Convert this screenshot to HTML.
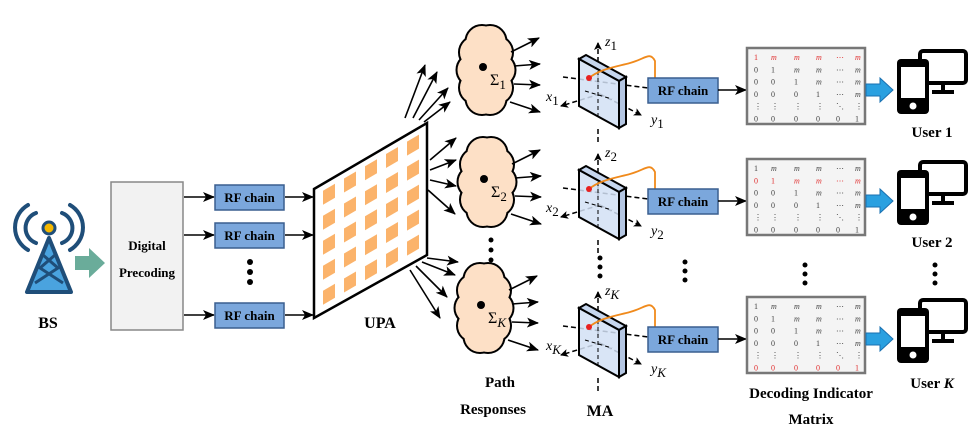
<!DOCTYPE html>
<html><head><meta charset="utf-8"><style>
html,body{margin:0;padding:0;background:#fff;}
svg{display:block;font-family:"Liberation Serif",serif;}
</style></head><body>
<svg id="s" width="969" height="433" viewBox="0 0 969 433" xmlns="http://www.w3.org/2000/svg">
<defs>
<marker id="ah" markerWidth="8" markerHeight="8" refX="7" refY="4" orient="auto" markerUnits="userSpaceOnUse"><path d="M0,0 L8,4 L0,8 L2,4 Z" fill="#000"/></marker>
<marker id="ah2" markerWidth="12" markerHeight="10" refX="11" refY="5" orient="auto" markerUnits="userSpaceOnUse"><path d="M0,0 L12,5 L0,10 L3,5 Z" fill="#000"/></marker>
</defs>
<g stroke="#1f4e79" fill="none" stroke-width="4" stroke-linecap="round">
<path d="M28,205 A26,26 0 0 0 28,250"/><path d="M70,205 A26,26 0 0 1 70,250"/>
<path d="M36,213 A16,16 0 0 0 36,243"/><path d="M62,213 A16,16 0 0 1 62,243"/>
</g>
<path d="M49,238 L27,292 L71,292 Z" fill="#4aa3df" stroke="#1f4e79" stroke-width="4" stroke-linejoin="round"/>
<path d="M43,255 L58,268 L35,283 M55,255 L40,268 L63,283" stroke="#1f4e79" stroke-width="3" fill="none"/>
<circle cx="49" cy="228" r="6" fill="#f5b800" stroke="#1f4e79" stroke-width="3"/>
<text x="48" y="328" font-size="16" font-weight="bold" text-anchor="middle">BS</text>
<path d="M75,256 L89,256 L89,248 L105,263 L89,278 L89,270 L75,270 Z" fill="#6aac9a"/>
<rect x="111" y="182" width="72" height="148" fill="#f2f2f2" stroke="#888" stroke-width="1.5"/>
<text x="147" y="250" font-size="13" font-weight="bold" text-anchor="middle">Digital</text>
<text x="147" y="277" font-size="13" font-weight="bold" text-anchor="middle">Precoding</text>
<g id="rf"></g>
<polygon points="314,189 427,123 427,255 314,318" fill="#fff" stroke="#000" stroke-width="2.5"/>
<g id="upa"></g>
<text x="380" y="328" font-size="16" font-weight="bold" text-anchor="middle">UPA</text>
<g id="dyn"></g>
<text x="500" y="387" font-size="15" font-weight="bold" text-anchor="middle">Path</text>
<text x="493" y="414" font-size="15" font-weight="bold" text-anchor="middle">Responses</text>
<text x="600" y="416" font-size="16" font-weight="bold" text-anchor="middle">MA</text>
<text x="811" y="398" font-size="15" font-weight="bold" text-anchor="middle">Decoding Indicator</text>
<text x="811" y="424" font-size="15" font-weight="bold" text-anchor="middle">Matrix</text>
</svg>
<script>
const NS="http://www.w3.org/2000/svg";
function add(p,tag,a,txt){const e=document.createElementNS(NS,tag);for(const k in a)e.setAttribute(k,a[k]);if(txt!==undefined)e.textContent=txt;(typeof p=='string'?document.getElementById(p):p).appendChild(e);return e;}
function arrow(p,x1,y1,x2,y2,w){add(p,'line',{x1,y1,x2,y2,stroke:'#000','stroke-width':w||1.6,'marker-end':'url(#ah2)'});}
function rfbox(p,x,y,w){add(p,'rect',{x,y,width:w,height:25,fill:'#7ba7dc',stroke:'#3a5f8f','stroke-width':1.5});add(p,'text',{x:x+w/2,y:y+17,'font-size':13,'font-weight':'bold','text-anchor':'middle'},'RF chain');}
function subtext(p,x,y,base,sub,size,italicSub){const t=add(p,'text',{x,y,'font-size':size,'font-style':'italic'},base);add(t,'tspan',{dy:4,'font-size':size-1,'font-style':italicSub?'italic':'normal'},sub);return t;}
[197,235,315].forEach(y=>{arrow('rf',184,y,214,y);rfbox('rf',215,y-12,69);arrow('rf',285,y,313,y);});
[262,272,282].forEach(y=>add('rf','circle',{cx:250,cy:y,r:3,fill:'#000'}));
for(let c=0;c<5;c++){const x=323+c*21;const f=(x-314)/113;const top=189-66*f;
 for(let r=0;r<5;r++){const y=top+7+r*25;const sk=-66/113*12;add('upa','polygon',{points:`${x},${y} ${x+12},${y+sk} ${x+12},${y+sk+14} ${x},${y+14}`,fill:'#fbb36b'});}}
[[405,118,425,65],[413,118,437,72],[419,120,448,88],[424,122,450,102],
 [430,160,456,138],[430,170,456,160],[430,180,456,186],[428,190,455,214],
 [427,258,458,262],[422,262,455,275],[416,266,447,297],[410,270,440,318]].forEach(a=>arrow('dyn',...a));
function cloud(cx,cy,sub,italic){
 const g=add('dyn','g',{});
 const pts=[];const n=10;for(let i=0;i<n;i++){const a=i/n*2*Math.PI;pts.push([cx+13*Math.cos(a),cy+30*Math.sin(a)]);}
 pts.forEach(p=>add(g,'circle',{cx:p[0],cy:p[1],r:15.5,fill:'#fde0c6',stroke:'#000','stroke-width':4}));
 pts.forEach(p=>add(g,'circle',{cx:p[0],cy:p[1],r:15.5,fill:'#fde0c6'}));
 add(g,'ellipse',{cx,cy,rx:16,ry:32,fill:'#fde0c6'});
 add('dyn','circle',{cx:cx-3,cy:cy-3,r:4,fill:'#000'});
 const t=add('dyn','text',{x:cx+4,y:cy+15,'font-size':16},'Σ');add(t,'tspan',{dy:4,'font-size':13,'font-style':italic?'italic':'normal'},sub);
 [[cx+25,cy-18,cx+53,cy-32],[cx+28,cy-4,cx+54,cy-6],[cx+28,cy+14,cx+54,cy+15],[cx+24,cy+32,cx+54,cy+42]].forEach(a=>arrow('dyn',...a));}
cloud(486,70,'1');cloud(487,182,'2');cloud(484,308,'K',true);
[240,250,260].forEach(y=>add('dyn','circle',{cx:491,cy:y,r:2.5,fill:'#000'}));
function ma(dy,sub,uy,lbl){
 const it=lbl==3;
 const d={stroke:'#000','stroke-dasharray':'5,3','stroke-width':1.5};
 add('dyn','line',Object.assign({x1:598,y1:dy+335,x2:598,y2:dy+292,'marker-end':'url(#ah)'},d));
 add('dyn','line',Object.assign({x1:598,y1:dy+378,x2:598,y2:dy+392},d));
 add('dyn','line',Object.assign({x1:600,y1:dy+343,x2:561,y2:dy+355,'marker-end':'url(#ah)'},d));
 add('dyn','line',Object.assign({x1:600,y1:dy+343,x2:641,y2:dy+364,'marker-end':'url(#ah)'},d));
 add('dyn','line',Object.assign({x1:563,y1:dy+326,x2:648,y2:dy+337},d));
 add('dyn','polygon',{points:`579,${dy+308} 586,${dy+304} 626,${dy+326} 619,${dy+330}`,fill:'#c6d6ee',stroke:'#000','stroke-width':2});
 add('dyn','polygon',{points:`619,${dy+330} 626,${dy+326} 626,${dy+373} 619,${dy+377}`,fill:'#b4c6e2',stroke:'#000','stroke-width':2});
 add('dyn','polygon',{points:`579,${dy+308} 619,${dy+330} 619,${dy+377} 579,${dy+355}`,fill:'#d2e0f4','fill-opacity':0.85,stroke:'#000','stroke-width':2});
 add('dyn','line',{x1:598,y1:dy+320,x2:598,y2:dy+365,stroke:'#000','stroke-dasharray':'4,3','stroke-width':1});
 add('dyn','line',{x1:585,y1:dy+340,x2:612,y2:dy+348,stroke:'#000','stroke-dasharray':'4,3','stroke-width':1});
 add('dyn','path',{d:`M589,${dy+327} C600,${dy+318} 615,${dy+316} 630,${dy+312} S650,${dy+300} 655,${dy+310} L655,${dy+327}`,fill:'none',stroke:'#f08a1c','stroke-width':1.8});
 add('dyn','circle',{cx:589,cy:dy+327,r:3,fill:'#e82020'});
 subtext('dyn',605,dy+295,'z',sub,14,it);
 subtext('dyn',546,dy+350,'x',sub,14,it);
 subtext('dyn',651,dy+373,'y',sub,14,it);
 rfbox('dyn',648,dy+327,70);
 arrow('dyn',718,dy+339,746,dy+339);
 const mx=747,mys=dy+297;
 add('dyn','rect',{x:mx,y:mys,width:118,height:76,fill:'#f4f4f4',stroke:'#777','stroke-width':2.5});
 const rows=[['1','m','m','m','⋯','m'],['0','1','m','m','⋯','m'],['0','0','1','m','⋯','m'],['0','0','0','1','⋯','m'],['⋮','⋮','⋮','⋮','⋱','⋮'],['0','0','0','0','0','1']];
 const xs=[754,771,794,816,836,855];
 rows.forEach((r,i)=>r.forEach((v,j)=>{const red=(lbl==1&&i==0)||(lbl==2&&i==1)||(lbl==3&&i==5);
  add('dyn','text',{x:xs[j],y:mys+12+i*12.3,'font-size':8,fill:red?'#e03030':'#444','font-style':v=='m'?'italic':'normal'},v);}));
 add('dyn','path',{d:`M866,${dy+333} L880,${dy+333} L880,${dy+327} L893,${dy+339} L880,${dy+351} L880,${dy+345} L866,${dy+345} Z`,fill:'#2aa0e0',stroke:'#1a70b0','stroke-width':1});
 add('dyn','rect',{x:920,y:dy+300,width:46,height:32,rx:3,fill:'#fff',stroke:'#000','stroke-width':4});
 add('dyn','line',{x1:943,y1:dy+332,x2:943,y2:dy+340,stroke:'#000','stroke-width':4});
 add('dyn','line',{x1:932,y1:dy+341,x2:954,y2:dy+341,stroke:'#000','stroke-width':4});
 add('dyn','rect',{x:897,y:dy+308,width:32,height:55,rx:4,fill:'#000'});
 add('dyn','rect',{x:901,y:dy+316,width:24,height:31,fill:'#fff'});
 add('dyn','circle',{cx:913,cy:dy+355,r:3.5,fill:'#fff'});
 const u=add('dyn','text',{x:932,y:uy,'font-size':15,'font-weight':'bold','text-anchor':'middle'},'User ');
 const ts=add(u,'tspan',{},lbl==3?'K':String(lbl));if(lbl==3)ts.setAttribute('font-style','italic');
}
ma(-249,'1',137,1);ma(-138,'2',247,2);ma(0,'K',388,3);
[[600,258],[600,267],[600,276],[685,262],[685,271],[685,280],[805,265],[805,274],[805,283],[935,265],[935,274],[935,283]].forEach(p=>add('dyn','circle',{cx:p[0],cy:p[1],r:2.5,fill:'#000'}));
</script>
</body></html>
